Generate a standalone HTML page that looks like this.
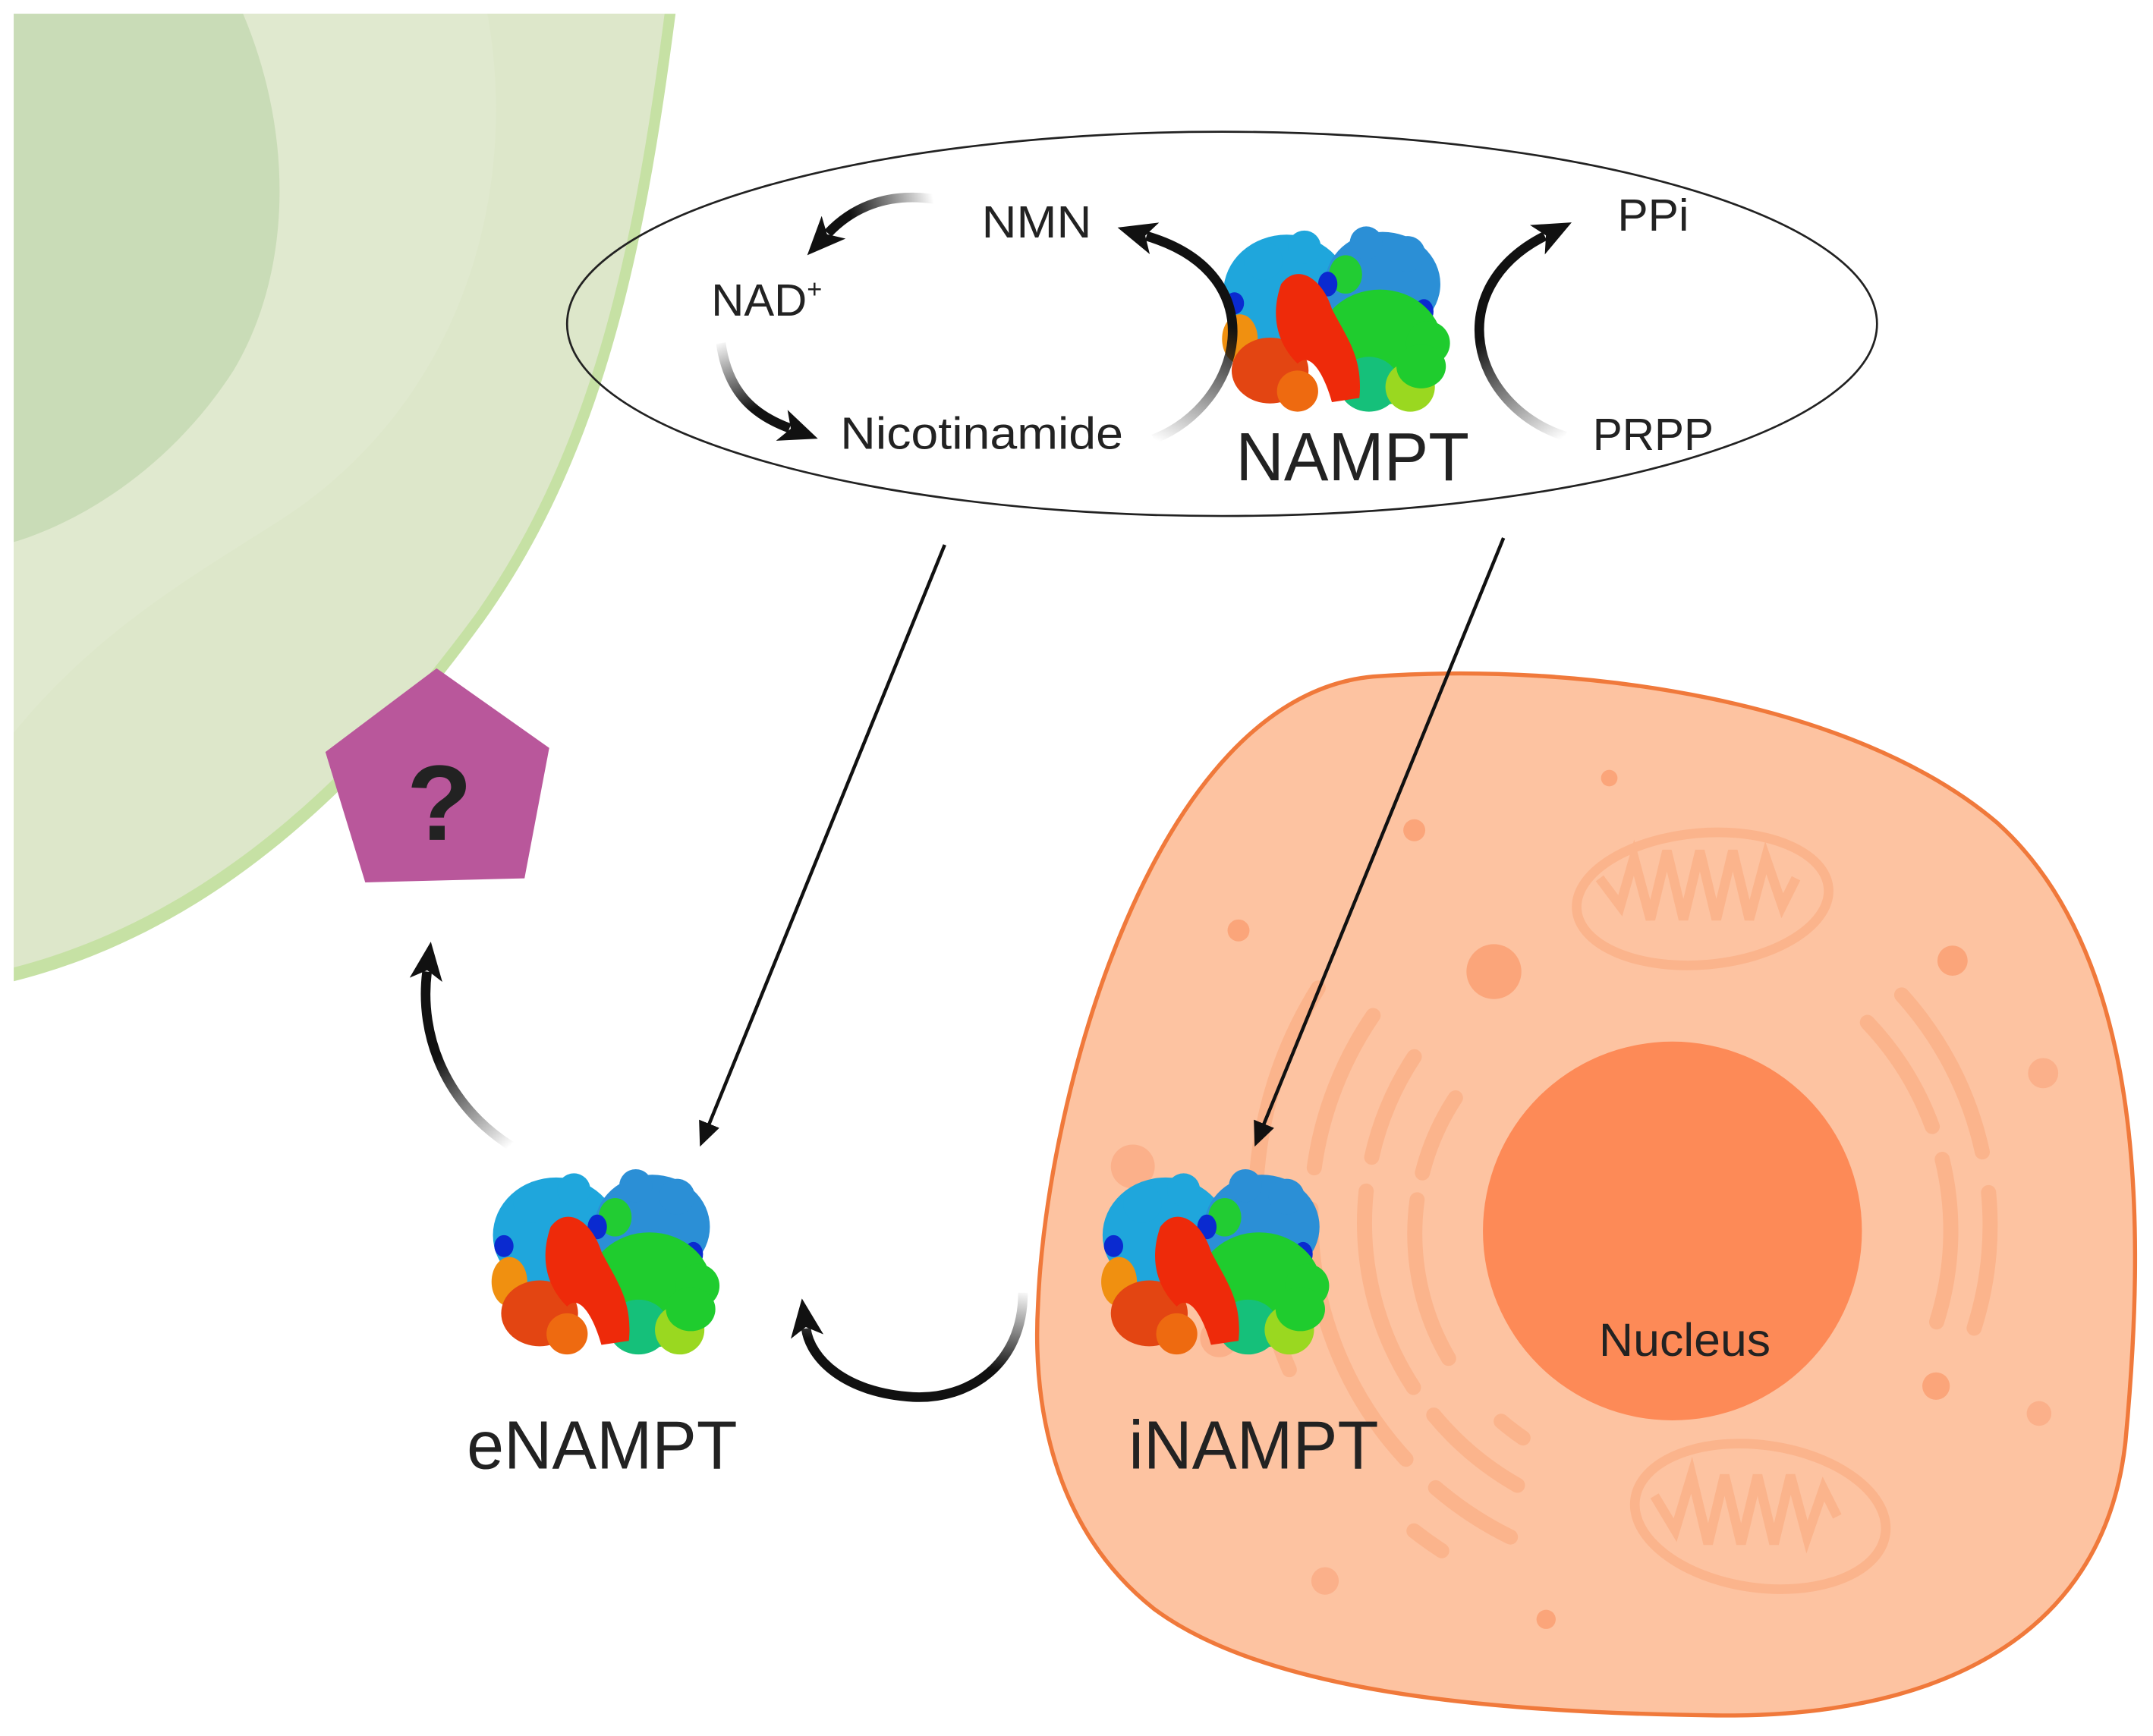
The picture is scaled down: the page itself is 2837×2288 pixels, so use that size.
<!DOCTYPE html>
<html><head><meta charset="utf-8"><style>
html,body{margin:0;padding:0;background:#fff;}
svg{display:block;}
text{font-family:"Liberation Sans",sans-serif;fill:#222;}
</style></head><body>
<svg width="2837" height="2288" viewBox="0 0 1568 1265" preserveAspectRatio="none" xmlns="http://www.w3.org/2000/svg">
<defs>
<marker id="th" markerUnits="userSpaceOnUse" markerWidth="40" markerHeight="40" refX="6" refY="14" orient="auto"><path d="M0,2 L28,14 L0,26 L7,14 Z" fill="#111"/></marker>
<marker id="tn" markerUnits="userSpaceOnUse" markerWidth="24" markerHeight="24" refX="12" refY="8" orient="auto"><path d="M0,0 L18,8 L0,16 Z" fill="#111"/></marker>
<linearGradient id="g1" gradientUnits="userSpaceOnUse" x1="840" y1="320" x2="880" y2="230"><stop offset="0" stop-color="#111" stop-opacity="0"/><stop offset="1" stop-color="#111"/></linearGradient>
<linearGradient id="g2" gradientUnits="userSpaceOnUse" x1="1140" y1="318" x2="1090" y2="240"><stop offset="0" stop-color="#111" stop-opacity="0"/><stop offset="1" stop-color="#111"/></linearGradient>
<linearGradient id="g3" gradientUnits="userSpaceOnUse" x1="680" y1="145" x2="620" y2="160"><stop offset="0" stop-color="#111" stop-opacity="0"/><stop offset="1" stop-color="#111"/></linearGradient>
<linearGradient id="g4" gradientUnits="userSpaceOnUse" x1="525" y1="248" x2="545" y2="300"><stop offset="0" stop-color="#111" stop-opacity="0"/><stop offset="1" stop-color="#111"/></linearGradient>
<linearGradient id="g5" gradientUnits="userSpaceOnUse" x1="372" y1="835" x2="320" y2="770"><stop offset="0" stop-color="#111" stop-opacity="0"/><stop offset="1" stop-color="#111"/></linearGradient>
<linearGradient id="g6" gradientUnits="userSpaceOnUse" x1="745" y1="940" x2="735" y2="1000"><stop offset="0" stop-color="#111" stop-opacity="0"/><stop offset="1" stop-color="#111"/></linearGradient>
<g id="blob">
<ellipse cx="-38" cy="-22" rx="46" ry="42" fill="#1fa6dc"/>
<circle cx="-55" cy="-45" r="14" fill="#1fa6dc"/><circle cx="-25" cy="-55" r="12" fill="#1fa6dc"/>
<ellipse cx="32" cy="-28" rx="42" ry="38" fill="#2b8fd6"/>
<circle cx="20" cy="-58" r="12" fill="#2b8fd6"/><circle cx="50" cy="-50" r="13" fill="#2b8fd6"/>
<ellipse cx="5" cy="-35" rx="12" ry="14" fill="#22cc33"/>
<ellipse cx="-8" cy="-28" rx="7" ry="9" fill="#0a2ad0"/>
<ellipse cx="62" cy="-8" rx="7" ry="9" fill="#0a2ad0"/>
<ellipse cx="-76" cy="-14" rx="7" ry="8" fill="#0a2ad0"/>
<ellipse cx="30" cy="18" rx="46" ry="42" fill="#1fcc2e"/>
<circle cx="65" cy="15" r="16" fill="#1fcc2e"/>
<ellipse cx="22" cy="45" rx="22" ry="20" fill="#15c07a"/>
<ellipse cx="52" cy="47" rx="18" ry="18" fill="#9ad820"/>
<ellipse cx="60" cy="32" rx="18" ry="16" fill="#1fcc2e"/>
<ellipse cx="-72" cy="12" rx="13" ry="18" fill="#f09010"/>
<ellipse cx="-50" cy="35" rx="28" ry="24" fill="#e34512"/>
<ellipse cx="-30" cy="50" rx="15" ry="15" fill="#ee6a10"/>
<path d="M-42,-28 C-30,-44 -12,-32 -5,-10 C5,10 18,25 15,55 L-5,58 C-10,40 -20,20 -30,30 C-45,15 -50,-5 -42,-28 Z" fill="#ee2a0a"/>
</g>
</defs>

<path d="M492,10 C470,180 440,330 352,453 C260,580 150,680 10,715 L10,10 Z" fill="#c6e1a4"/>
<path d="M484,10 C462,180 432,326 346,448 C255,572 146,670 10,705 L10,10 Z" fill="#dde7ca"/>
<path d="M355,10 C380,150 330,300 201,381 C140,420 70,460 10,534 L10,10 Z" fill="#e0e9cf"/>
<path d="M177,10 C215,100 212,200 170,270 C125,340 60,380 10,395 L10,10 Z" fill="#c9dcb7"/>

<ellipse cx="890" cy="236" rx="477" ry="140" fill="none" stroke="#222" stroke-width="1.5"/>

<path d="M1000,493 C1150,482 1350,510 1455,600 C1565,700 1562,900 1548,1050 C1532,1200 1400,1252 1250,1250 C1080,1248 920,1232 840,1172 C765,1112 752,1020 756,950 C762,800 840,508 1000,493 Z" fill="#fdc3a1" stroke="#f0793b" stroke-width="3"/>
<g fill="none" stroke="#fbb48c" stroke-width="11" stroke-linecap="round">
<path d="M1000,740 A260,260 0 0 0 1100,1120" stroke-dasharray="120 30 200 30"/>
<path d="M1030,770 A220,220 0 0 0 1120,1090" stroke-dasharray="80 25 150 25"/>
<path d="M1060,800 A180,180 0 0 0 1130,1060" stroke-dasharray="60 20 120"/>
<path d="M960,720 A300,300 0 0 0 1050,1130" stroke-dasharray="150 40 100"/>
<path d="M1360,745 A220,220 0 0 1 1400,990" stroke-dasharray="90 25 120"/>
<path d="M1385,725 A250,250 0 0 1 1420,1010" stroke-dasharray="130 30 100"/>
</g>
<g fill="none" stroke="#fbb48c" stroke-width="7">
<ellipse cx="1240" cy="655" rx="92" ry="48" transform="rotate(-5 1240 655)"/>
<ellipse cx="1282" cy="1105" rx="92" ry="52" transform="rotate(8 1282 1105)"/>
<path d="M1165,640 l15,20 l10,-35 l12,45 l12,-50 l12,50 l12,-50 l12,50 l12,-50 l12,50 l12,-45 l12,35 l10,-20"/>
<path d="M1205,1090 l15,25 l12,-40 l12,50 l12,-50 l12,50 l12,-50 l12,50 l12,-50 l12,45 l12,-35 l10,20"/>
</g>
<g fill="#fba57a">
<circle cx="1030" cy="605" r="8"/><circle cx="1172" cy="567" r="6"/><circle cx="902" cy="678" r="8"/>
<circle cx="1088" cy="708" r="20"/><circle cx="1422" cy="700" r="11"/><circle cx="1488" cy="782" r="11" fill="#fbb08a"/>
<circle cx="825" cy="850" r="16" fill="#fbb08a"/><circle cx="1410" cy="1010" r="10"/><circle cx="1485" cy="1030" r="9" fill="#fbb08a"/>
<circle cx="965" cy="1152" r="10" fill="#fbb08a"/><circle cx="1126" cy="1180" r="7"/><circle cx="888" cy="975" r="14" fill="#fbb08a"/>
</g>
<circle cx="1218" cy="897" r="138" fill="#fd8a57"/>
<text x="1227" y="988" font-size="34" text-anchor="middle" textLength="125" lengthAdjust="spacingAndGlyphs">Nucleus</text>

<polygon points="318,487 400,545 382,640 266,643 237,548" fill="#b9579b"/>
<text x="320" y="612" font-size="78" font-weight="bold" text-anchor="middle" fill="#1a1a1a">?</text>

<use href="#blob" transform="translate(975,235)"/>
<use href="#blob" transform="translate(443,922)"/>
<use href="#blob" transform="translate(887,922)"/>

<g fill="none" stroke-width="7" stroke-linecap="butt">
<path d="M840,320 C905,295 930,200 835,172" stroke="url(#g1)" marker-end="url(#th)"/>
<path d="M1140,318 C1070,295 1050,210 1125,172" stroke="url(#g2)" marker-end="url(#th)"/>
<path d="M680,145 C645,140 620,152 603,170" stroke="url(#g3)" marker-end="url(#th)"/>
<path d="M525,250 C530,285 548,302 575,312" stroke="url(#g4)" marker-end="url(#th)"/>
<path d="M372,835 C325,805 305,755 311,708" stroke="url(#g5)" marker-end="url(#th)"/>
<path d="M745,942 C745,995 705,1020 665,1018 C615,1015 590,990 587,968" stroke="url(#g6)" marker-end="url(#th)"/>
</g>

<line x1="688" y1="397" x2="512" y2="830" stroke="#111" stroke-width="2.5" marker-end="url(#tn)"/>
<line x1="1095" y1="392" x2="916" y2="830" stroke="#111" stroke-width="2.5" marker-end="url(#tn)"/>

<text x="755" y="173" font-size="33" text-anchor="middle" textLength="80" lengthAdjust="spacingAndGlyphs">NMN</text>
<text x="518" y="230" font-size="33">NAD<tspan font-size="19" dy="-13">+</tspan></text>
<text x="612" y="327" font-size="33" textLength="206" lengthAdjust="spacingAndGlyphs">Nicotinamide</text>
<text x="900" y="350" font-size="50" textLength="170" lengthAdjust="spacingAndGlyphs">NAMPT</text>
<text x="1178" y="168" font-size="33" textLength="52" lengthAdjust="spacingAndGlyphs">PPi</text>
<text x="1160" y="328" font-size="33" textLength="88" lengthAdjust="spacingAndGlyphs">PRPP</text>
<text x="340" y="1070" font-size="50" textLength="197" lengthAdjust="spacingAndGlyphs">eNAMPT</text>
<text x="822" y="1070" font-size="50" textLength="182" lengthAdjust="spacingAndGlyphs">iNAMPT</text>
</svg>
</body></html>
